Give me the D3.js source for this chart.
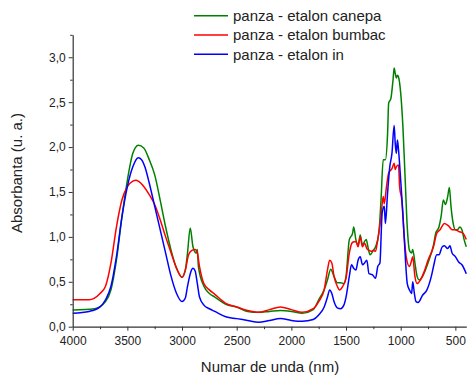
<!DOCTYPE html>
<html><head><meta charset="utf-8">
<script src="https://cdn.jsdelivr.net/npm/d3@7"></script>
<style>body{margin:0;background:#fff}svg{display:block;font-family:"Liberation Sans",Arial,sans-serif}</style>
</head><body><svg id="c" width="468" height="381"></svg>
<script>
const seriesNames = ["panza - etalon canepa", "panza - etalon bumbac", "panza - etalon in"];
const seriesColors = ["#008000", "#ff0000", "#0000ff"];

const wnCanepa = [4000,3800,3700,3650,3600,3550,3500,3450,3400,3350,3300,3250,3200,3150,3100,3050,3000,2970,2950,2925,2900,2870,2860,2850,2800,2750,2700,2600,2500,2400,2300,2200,2100,2000,1900,1800,1750,1700,1670,1640,1610,1580,1550,1520,1500,1470,1440,1430,1410,1390,1370,1350,1330,1315,1300,1280,1250,1230,1200,1180,1160,1140,1120,1110,1090,1070,1060,1050,1040,1030,1020,1000,980,960,940,920,900,890,870,850,830,800,750,700,680,650,630,610,590,570,555,540,520,500,480,460,440,420,400];
const absCanepa = [0.186,0.20,0.28,0.41,0.74,1.22,1.63,1.93,2.02,1.99,1.86,1.69,1.41,1.11,0.85,0.65,0.55,0.63,0.82,1.10,0.89,0.82,0.86,0.67,0.45,0.37,0.33,0.25,0.22,0.17,0.16,0.17,0.18,0.17,0.15,0.19,0.30,0.41,0.52,0.64,0.56,0.49,0.49,0.48,0.56,0.97,1.04,1.11,0.97,0.91,1.02,0.91,0.95,0.97,0.89,0.80,0.85,0.89,1.04,1.41,1.86,1.86,2.15,2.49,2.54,2.75,2.88,2.82,2.77,2.80,2.78,2.60,2.23,1.67,1.11,0.85,0.82,0.86,0.71,0.56,0.52,0.56,0.71,0.91,1.04,1.11,1.23,1.41,1.36,1.45,1.55,1.34,1.15,1.08,1.08,1.11,1.08,0.97,0.89];

const wnBumbac = [4000,3850,3750,3700,3650,3600,3550,3500,3450,3420,3400,3350,3300,3250,3200,3150,3100,3050,3000,2970,2940,2910,2880,2860,2840,2800,2750,2700,2600,2500,2400,2300,2200,2100,2000,1900,1800,1750,1700,1670,1650,1630,1610,1580,1560,1530,1500,1470,1440,1410,1390,1370,1350,1330,1310,1290,1270,1250,1230,1210,1180,1160,1150,1130,1110,1080,1060,1050,1040,1020,1010,990,970,950,920,900,890,870,850,820,780,750,700,670,640,600,560,530,500,470,430,400];
const absBumbac = [0.30,0.30,0.37,0.45,0.71,1.11,1.41,1.56,1.62,1.63,1.62,1.56,1.47,1.36,1.19,1.00,0.82,0.65,0.55,0.63,0.80,0.85,0.86,0.82,0.67,0.48,0.41,0.36,0.26,0.22,0.18,0.16,0.19,0.22,0.19,0.16,0.20,0.28,0.41,0.63,0.74,0.71,0.56,0.45,0.41,0.45,0.54,0.82,0.94,0.95,0.89,1.00,0.89,0.93,0.87,0.85,0.84,0.85,0.84,0.97,1.23,1.45,1.37,1.56,1.71,1.76,1.82,1.75,1.78,1.80,1.56,1.41,1.04,0.78,0.67,0.74,0.78,0.56,0.48,0.52,0.63,0.74,0.89,1.04,1.08,1.15,1.12,1.08,1.08,1.06,1.04,0.97];

const wnIn = [4000,3850,3750,3700,3650,3600,3550,3500,3450,3400,3370,3340,3300,3250,3200,3150,3100,3050,3000,2970,2950,2920,2900,2880,2860,2840,2800,2750,2700,2600,2500,2400,2300,2200,2100,2000,1900,1800,1750,1700,1670,1650,1630,1610,1580,1550,1520,1500,1470,1450,1430,1410,1390,1370,1350,1330,1310,1290,1260,1230,1210,1190,1170,1150,1140,1120,1100,1080,1060,1050,1040,1030,1020,1000,980,960,940,920,900,890,875,860,840,800,760,720,700,670,650,620,600,570,550,530,500,470,440,400];
const absIn = [0.15,0.17,0.22,0.30,0.45,0.78,1.22,1.56,1.78,1.88,1.86,1.78,1.60,1.34,1.08,0.82,0.56,0.37,0.28,0.32,0.45,0.61,0.65,0.62,0.48,0.33,0.24,0.20,0.17,0.11,0.09,0.07,0.05,0.07,0.09,0.07,0.06,0.08,0.13,0.22,0.33,0.41,0.37,0.28,0.21,0.20,0.24,0.33,0.56,0.69,0.65,0.63,0.74,0.78,0.69,0.71,0.74,0.59,0.58,0.54,0.67,0.71,1.26,1.34,1.15,1.49,1.78,1.93,2.24,2.04,1.93,2.08,1.97,1.63,1.26,0.82,0.48,0.41,0.37,0.50,0.37,0.28,0.27,0.35,0.41,0.56,0.67,0.80,0.80,0.89,0.90,0.87,0.90,0.82,0.78,0.72,0.69,0.59];

const xTickValues = [4000,3500,3000,2500,2000,1500,1000,500];
const xMinorTicks = [3750,3250,2750,2250,1750,1250,750];
const yTickValues = [0,0.5,1.0,1.5,2.0,2.5,3.0];
const yMinorTicks = [0.25,0.75,1.25,1.75,2.25,2.75,3.25];
const xTitle = "Numar de unda (nm)";
const yTitle = "Absorbanta (u. a.)";

const svg = d3.select("#c");
const x = d3.scaleLinear().domain([4000,400]).range([72.7,466.3]);
const y = d3.scaleLinear().domain([0,3.25]).range([326.7,34.8]);
const fmt = d => d.toFixed(1).replace(".", ",");

const series = [
  {wn: wnCanepa, a: absCanepa},
  {wn: wnBumbac, a: absBumbac},
  {wn: wnIn, a: absIn}
];

const line = d3.line().x(d => x(d[0])).y(d => y(d[1])).curve(d3.curveMonotoneX);
const gLines = svg.append("g");
// draw order: green, red, blue on top
[0,1,2].forEach(i => {
  const s = series[i];
  gLines.append("path")
    .datum(s.wn.map((w, k) => [w, s.a[k]]))
    .attr("fill", "none").attr("stroke", seriesColors[i])
    .attr("stroke-width", 1.5).attr("stroke-linejoin", "round")
    .attr("d", line);
});

const axisColor = "#333";
const gx = svg.append("g").attr("transform", "translate(0,326.7)")
  .call(d3.axisBottom(x).tickValues(xTickValues).tickSize(4).tickSizeOuter(0).tickPadding(4).tickFormat(d3.format("d")));
svg.append("g").attr("transform", "translate(0,326.7)")
  .call(d3.axisBottom(x).tickValues(xMinorTicks).tickSize(2.5).tickSizeOuter(0).tickFormat(""))
  .select(".domain").remove();
const gy = svg.append("g").attr("transform", "translate(72.7,0)")
  .call(d3.axisLeft(y).tickValues(yTickValues).tickSize(4).tickSizeOuter(0).tickPadding(3).tickFormat(fmt));
svg.append("g").attr("transform", "translate(72.7,0)")
  .call(d3.axisLeft(y).tickValues(yMinorTicks).tickSize(2.5).tickSizeOuter(0).tickFormat(""))
  .select(".domain").remove();
svg.selectAll(".domain").attr("stroke", axisColor).attr("stroke-width", 1.2);
svg.selectAll(".tick line").attr("stroke", axisColor).attr("stroke-width", 1);
svg.selectAll(".tick text").attr("fill", "#222").style("font-size", "12px").style("font-family", '"Liberation Sans",Arial,sans-serif');
gx.selectAll(".tick text").attr("dy", "0.9em");

svg.append("text").attr("x", 270).attr("y", 372).attr("text-anchor", "middle")
  .style("font-size", "15px").attr("fill", "#222").text(xTitle);
svg.append("text").attr("transform", "translate(22,173) rotate(-90)").attr("text-anchor", "middle")
  .style("font-size", "15px").attr("fill", "#222").text(yTitle);

const legY = [15.7, 35, 54.3];
seriesNames.forEach((n, i) => {
  svg.append("line").attr("x1", 194).attr("x2", 228).attr("y1", legY[i]).attr("y2", legY[i])
    .attr("stroke", seriesColors[i]).attr("stroke-width", 1.5);
  svg.append("text").attr("x", 233).attr("y", legY[i] + 5.3)
    .style("font-size", "15px").attr("fill", "#222").text(n);
});
</script></body></html>
